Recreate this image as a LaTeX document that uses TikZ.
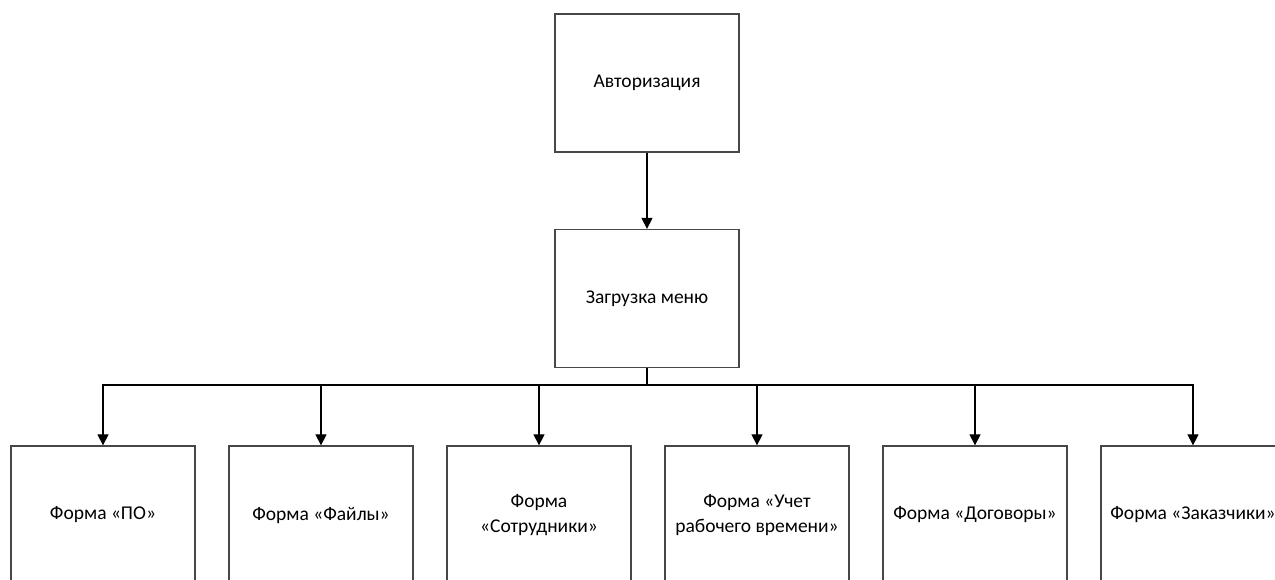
\documentclass[tikz,border=0pt]{standalone}
\usepackage{fontspec}
\setmainfont{Carlito}
\usetikzlibrary{arrows.meta}
\begin{document}
\begin{tikzpicture}[x=1pt,y=-1pt,
  block/.style={draw=black!72,line width=1.3pt,fill=white,
    minimum width=184pt,minimum height=138pt,inner sep=2pt,
    align=center,font=\fontsize{19.5}{25.5}\selectfont},
  arr/.style={draw=black,line width=1.2pt,-{Triangle[width=11pt,length=11pt]}},
  link/.style={draw=black,line width=1.2pt}]
\useasboundingbox (0,0) rectangle (1275,579);
\begin{scope}
\clip (0,0) rectangle (1275,579);
% top chain
\node[block] (auth) at (647,83) {Авторизация};
\node[block] (menu) at (647,298.5) {Загрузка меню};
\coordinate (bus) at (647,385);
% forms row
\node[block] (f1) at (103,515) {Форма «ПО»};
\node[block] (f2) at (321,515) {Форма «Файлы»};
\node[block] (f3) at (539,515) {Форма\\«Сотрудники»};
\node[block] (f4) at (757,515) {Форма «Учет\\рабочего времени»};
\node[block] (f5) at (975,515) {Форма «Договоры»};
\node[block] (f6) at (1193,515) {Форма «Заказчики»};
% connectors
\draw[arr] (auth.south) -- (menu.north);
\draw[link] (menu.south) -- (bus);
\foreach \f in {f1,f2,f3,f4,f5,f6}
  \draw[arr] (bus) -| (\f.north);
\end{scope}
\end{tikzpicture}
\end{document}
